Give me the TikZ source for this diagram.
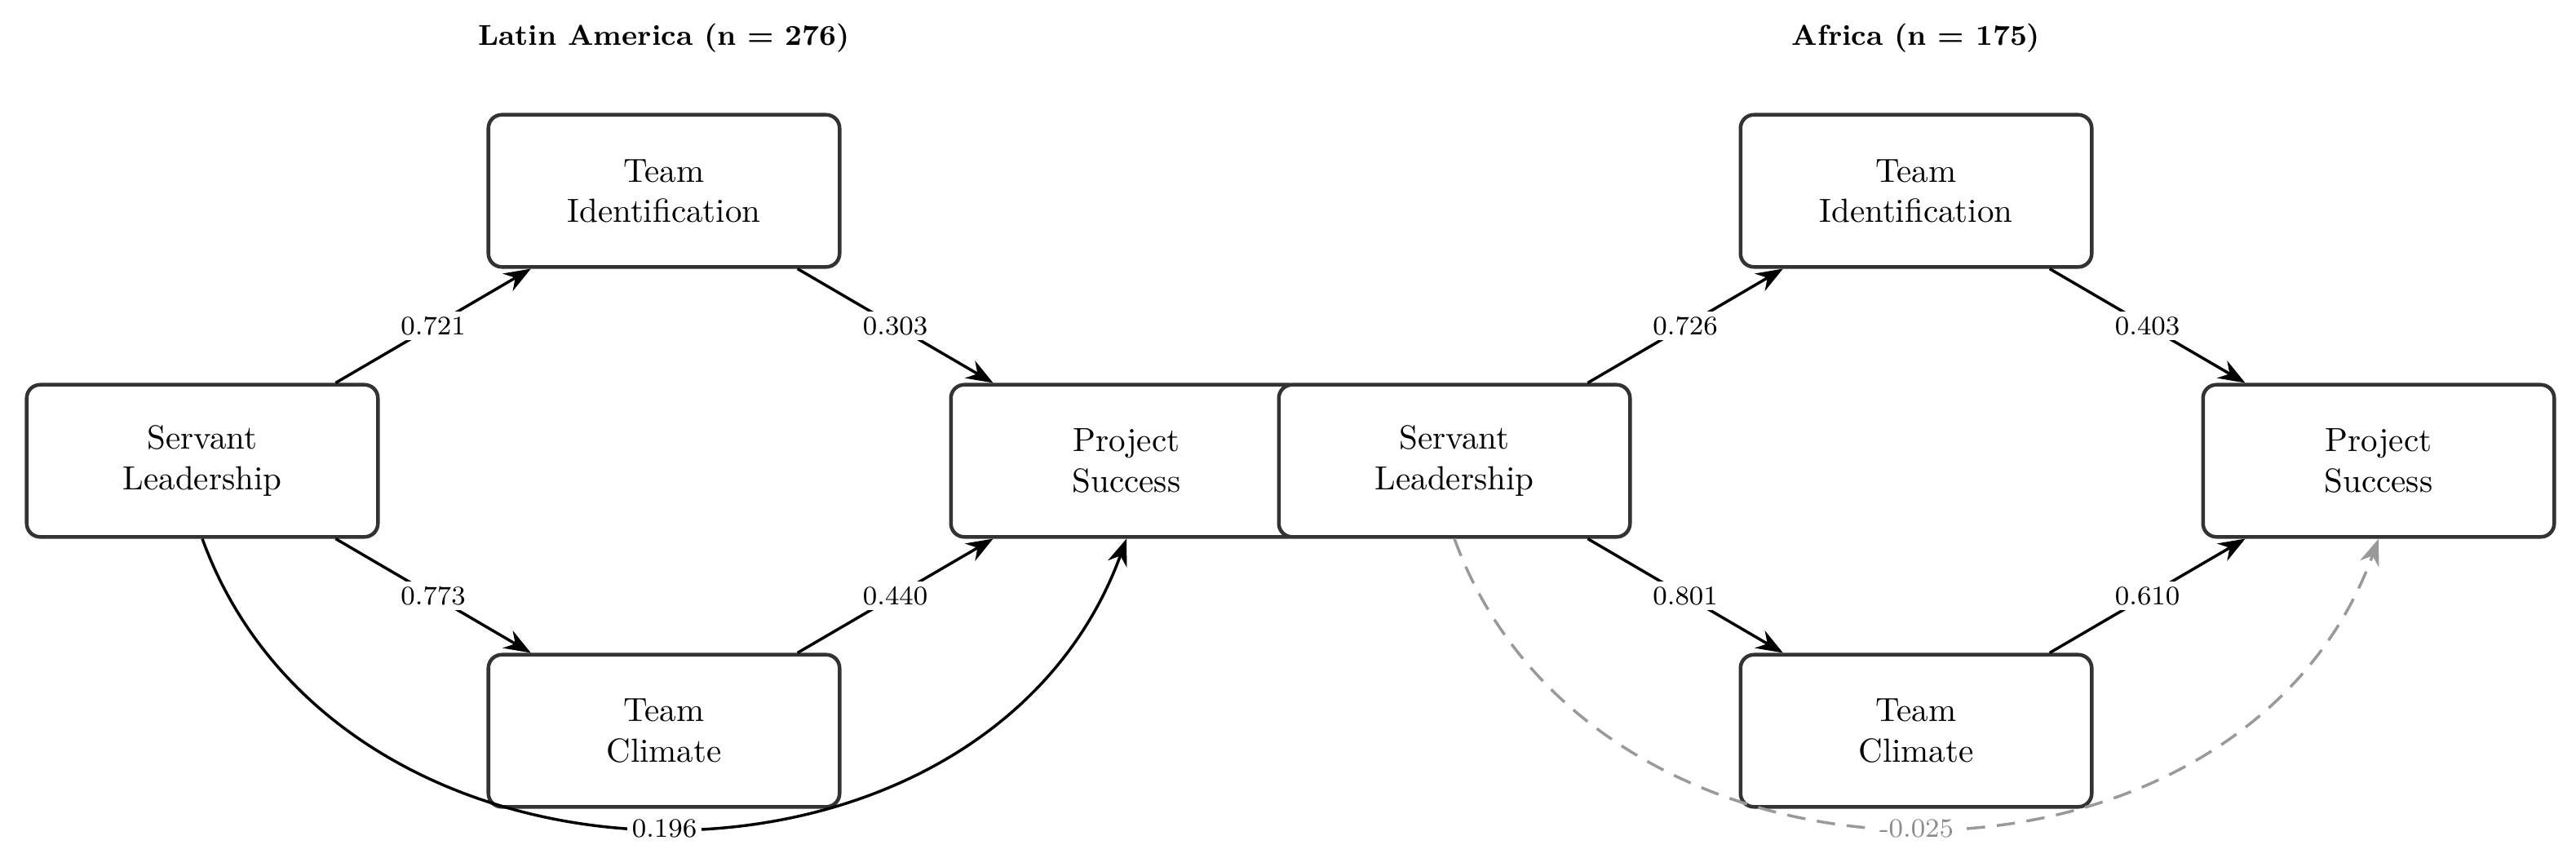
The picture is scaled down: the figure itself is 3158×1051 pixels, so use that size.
\documentclass[tikz,border=0pt]{standalone}
\usepackage{amsmath, amssymb}
\usepackage{tikz}
\usetikzlibrary{arrows.meta}

\tikzset{
    construct/.style={draw=black!80, line width=1.1pt, rounded corners=4pt, fill=white,
        align=center, minimum width=105pt, minimum height=45.5pt, inner sep=0pt},
    effect/.style={-{Stealth[length=8pt,width=6pt]}, line width=0.85pt, black},
    nseffect/.style={effect, draw=black!40, dash pattern=on 5.5pt off 3.5pt},
    coef/.style={fill=white, font=\footnotesize, inner sep=1.5pt},
    nscoef/.style={coef, text=black!45},
    grouptitle/.style={font=\fontsize{8.6}{10}\selectfont\bfseries}
}

\begin{document}
\begin{tikzpicture}[x=0.2439pt, y=0.2439pt]
    \useasboundingbox (0,0) rectangle (3158,-1051);

    % Latin America
    \node[grouptitle] (la) at (814,-47) {Latin America (n = 276)};
    \node[construct] (sl1) at (248,-565) {Servant\\Leadership};
    \node[construct] (ti1) at (814,-234) {Team\\Identification};
    \node[construct] (tc1) at (814,-896) {Team\\Climate};
    \node[construct] (ps1) at (1381,-565) {Project\\Success};

    \draw[effect] (sl1) -- node[coef] {0.721} (ti1);
    \draw[effect] (sl1) -- node[coef] {0.773} (tc1);
    \draw[effect] (ti1) -- node[coef] {0.303} (ps1);
    \draw[effect] (tc1) -- node[coef] {0.440} (ps1);
    \draw[effect] (sl1.south) to[out=-70, in=-110, looseness=1.14] node[coef] {0.196} (ps1.south);

    % Africa
    \node[grouptitle] (af) at (2349,-47) {Africa (n = 175)};
    \node[construct] (sl2) at (1783,-565) {Servant\\Leadership};
    \node[construct] (ti2) at (2349,-234) {Team\\Identification};
    \node[construct] (tc2) at (2349,-896) {Team\\Climate};
    \node[construct] (ps2) at (2916,-565) {Project\\Success};

    \draw[effect] (sl2) -- node[coef] {0.726} (ti2);
    \draw[effect] (sl2) -- node[coef] {0.801} (tc2);
    \draw[effect] (ti2) -- node[coef] {0.403} (ps2);
    \draw[effect] (tc2) -- node[coef] {0.610} (ps2);
    \draw[nseffect] (sl2.south) to[out=-70, in=-110, looseness=1.14] node[nscoef] {-0.025} (ps2.south);
\end{tikzpicture}
\end{document}
